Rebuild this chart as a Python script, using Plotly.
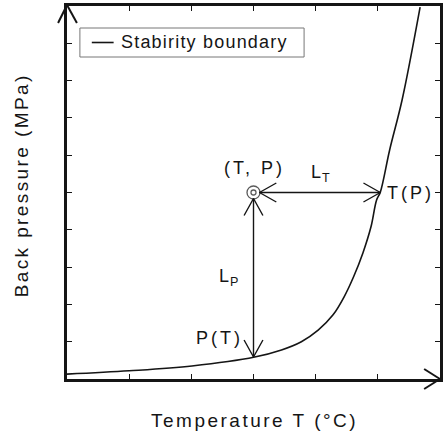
import plotly.graph_objects as go

# ---- data ----
boundary_T = [0.0, 1.0, 2.01, 3.02, 3.45, 3.77, 4.04, 4.28, 4.46, 4.61, 4.76, 4.89, 4.98, 5.04, 5.19, 5.39, 5.68]
boundary_P = [0.13, 0.22, 0.35, 0.59, 0.78, 1.00, 1.31, 1.72, 2.21, 2.74, 3.38, 4.08, 4.80, 5.01, 6.14, 7.48, 9.97]
state_T, state_P = 3.0, 5.0          # operating point (T, P)
T_of_P = 5.04                        # boundary temperature at P
P_of_T = 0.59                        # boundary pressure at T
x_range = [0, 6]
y_range = [0, 10]
x_ticks = [1, 2, 3, 4, 5]
y_ticks = [1, 2, 3, 4, 5, 6, 7, 8, 9]
legend_label = "Stabirity boundary"
x_title = "Temperature T (°C)"
y_title = "Back pressure (MPa)"

# ---- layout geometry ----
W, H = 443, 437
ML, MR, MT, MB = 67, 0, 6, 58
PW, PH = W - ML - MR, H - MT - MB
sx = PW / (x_range[1] - x_range[0])   # px per unit
sy = PH / (y_range[1] - y_range[0])

INK = "#151515"
FONT = "Liberation Sans, Arial, sans-serif"


def spaced(txt, sp=2):
    return f'<span style="letter-spacing:{sp}px">{txt}</span>'


def px_x(p):  # pixel column -> paper x
    return (p - ML) / PW


def px_y(p):  # pixel row -> paper y
    return (H - MB - p) / PH


fig = go.Figure()

fig.add_trace(go.Scatter(
    x=boundary_T, y=boundary_P, mode="lines", name=legend_label,
    line=dict(color=INK, width=1.6, shape="spline", smoothing=1.0),
    showlegend=False, hoverinfo="skip",
))

# arrows (shafts + open V heads), derived from the data points
r_circ = 6  # px radius of marker
hx0 = state_T + r_circ / sx
vy1 = state_P - r_circ / sy
ax, ay = [], []
ax += [hx0, T_of_P, None]; ay += [state_P, state_P, None]
ax += [state_T, state_T, None]; ay += [P_of_T, vy1, None]
heads = [(hx0, state_P, 1, 0), (T_of_P, state_P, -1, 0),
         (state_T, vy1, 0, -1), (state_T, P_of_T, 0, 1)]
L, Hw = 17, 9.5
for tx, ty, dx, dy in heads:
    for s in (1, -1):
        ex = tx + (dx * L + dy * Hw * s) / sx
        ey = ty + (dy * L + dx * Hw * s) / sy
        ax += [ex, tx]; ay += [ey, ty]
    ax += [None]; ay += [None]
fig.add_trace(go.Scatter(x=ax, y=ay, mode="lines", line=dict(color=INK, width=1.4),
                         showlegend=False, hoverinfo="skip"))

# double circle marker at (T, P)
fig.add_trace(go.Scatter(x=[state_T, state_T], y=[state_P, state_P], mode="markers",
                         marker=dict(symbol="circle-open", size=[13, 5], color=INK,
                                     line=dict(width=1.3, color=INK)),
                         showlegend=False, hoverinfo="skip", cliponaxis=False))

ann_font = dict(family=FONT, size=18, color=INK)
fig.add_annotation(x=state_T, y=state_P, text=spaced("(T, P)", 3), showarrow=False,
                   xanchor="center", yanchor="middle", yshift=25, xshift=1, font=ann_font)
fig.add_annotation(x=(state_T + T_of_P) / 2, y=state_P, text=spaced("L<sub>T</sub>", 1),
                   showarrow=False, xanchor="center", yanchor="middle", yshift=19, xshift=4,
                   font=ann_font)
fig.add_annotation(x=T_of_P, y=state_P, text=spaced("T(P)", 3), showarrow=False,
                   xanchor="left", yanchor="middle", xshift=5, font=ann_font)
fig.add_annotation(x=state_T, y=(state_P + P_of_T) / 2, text=spaced("L<sub>P</sub>", 1),
                   showarrow=False, xanchor="right", yanchor="middle", xshift=-13, yshift=-3,
                   font=ann_font)
fig.add_annotation(x=state_T, y=P_of_T, text=spaced("P(T)", 3), showarrow=False,
                   xanchor="right", yanchor="middle", xshift=-9, yshift=19, font=ann_font)

# axis titles
title_font = dict(size=19, family=FONT, color=INK)
fig.add_annotation(xref="paper", yref="paper", x=px_x(256), y=px_y(420),
                   text=spaced(x_title, 2.5), showarrow=False,
                   xanchor="center", yanchor="middle", font=title_font)
fig.add_annotation(xref="paper", yref="paper", x=px_x(21), y=px_y(185),
                   text=spaced(y_title, 2.4), showarrow=False, textangle=-90,
                   xanchor="center", yanchor="middle", font=title_font)

# custom legend box
shapes = []
shapes.append(dict(type="rect", xref="paper", yref="paper",
                   x0=px_x(80), x1=px_x(306), y0=px_y(57), y1=px_y(28),
                   line=dict(color="#777777", width=1), fillcolor="white", layer="below"))
shapes.append(dict(type="line", xref="paper", yref="paper",
                   x0=px_x(92), x1=px_x(114), y0=px_y(42.5), y1=px_y(42.5),
                   line=dict(color=INK, width=1.6)))
fig.add_annotation(xref="paper", yref="paper", x=px_x(119), y=px_y(42.5),
                   text=spaced(legend_label, 1.2), showarrow=False,
                   xanchor="left", yanchor="middle", font=ann_font)


def pline(x0, y0, x1, y1):
    shapes.append(dict(type="line", xref="paper", yref="paper", x0=x0, y0=y0, x1=x1, y1=y1,
                       line=dict(color=INK, width=2)))


# y-axis arrow at top-left
tipy = 1 + 1 / PH
pline(0, tipy, -9 / PW, tipy - 18 / PH)
pline(0, tipy, 10 / PW, tipy - 18 / PH)
# x-axis arrow at bottom-right
tipx = 1.0
pline(tipx, 0, tipx - 16 / PW, 10 / PH)
pline(tipx, 0, tipx - 16 / PW, -10 / PH)

axis_common = dict(showline=True, linewidth=2.5, linecolor=INK, mirror="ticks",
                   ticks="inside", ticklen=5, tickwidth=1.3, tickcolor=INK,
                   showticklabels=False, showgrid=False, zeroline=False)

fig.update_layout(
    width=W, height=H,
    margin=dict(l=ML, r=MR, t=MT, b=MB, pad=0),
    paper_bgcolor="white", plot_bgcolor="white",
    font=dict(family=FONT, size=18, color=INK),
    xaxis=dict(range=x_range, tickvals=x_ticks, **axis_common),
    yaxis=dict(range=y_range, tickvals=y_ticks, **axis_common),
    shapes=shapes,
    showlegend=False,
)

fig.write_html("out.html")
